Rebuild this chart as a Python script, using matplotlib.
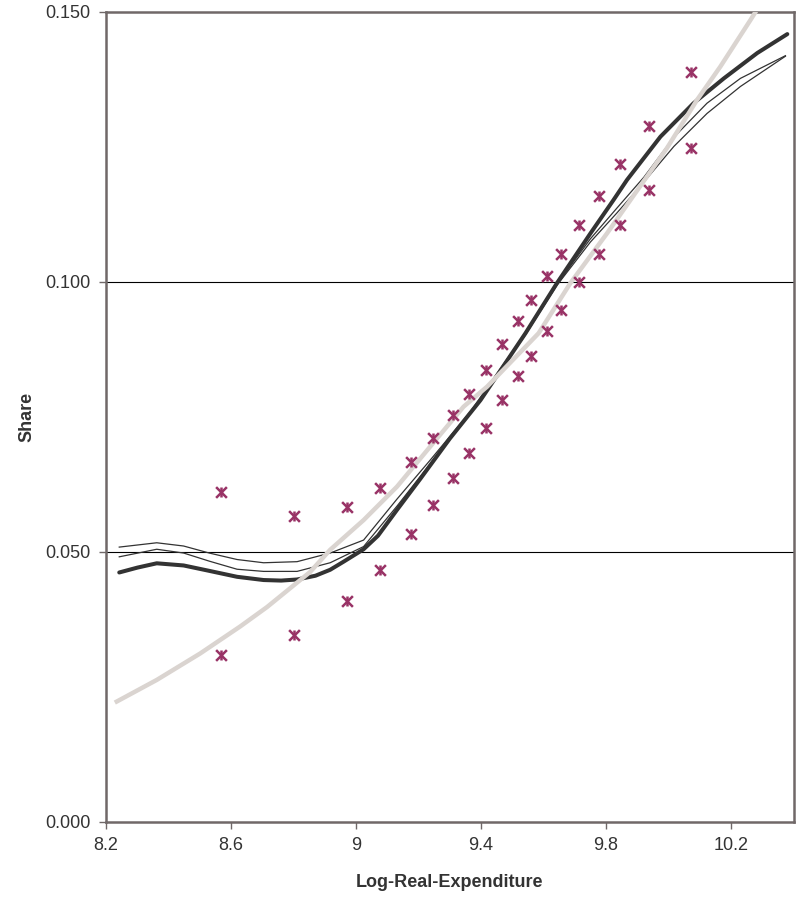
import numpy as np
import matplotlib
matplotlib.use("Agg")
import matplotlib.pyplot as plt
from matplotlib.ticker import FormatStrFormatter

plt.rcParams["font.family"] = ["Liberation Sans", "DejaVu Sans"]

# observed shares (cell means)
obs_x = [8.567, 8.567, 8.801, 8.801, 8.972, 8.972, 9.078, 9.078, 9.177, 9.177,
         9.245, 9.245, 9.309, 9.309, 9.361, 9.361, 9.415, 9.415, 9.467, 9.467,
         9.518, 9.518, 9.560, 9.560, 9.612, 9.612, 9.657, 9.657, 9.714, 9.714,
         9.776, 9.776, 9.846, 9.846, 9.936, 9.936, 10.071, 10.071]
obs_y = [0.0611, 0.0309, 0.0567, 0.0346, 0.0583, 0.0409, 0.0619, 0.0467, 0.0667, 0.0533,
         0.0711, 0.0587, 0.0754, 0.0637, 0.0793, 0.0683, 0.0837, 0.0730, 0.0885, 0.0781,
         0.0928, 0.0826, 0.0967, 0.0863, 0.1011, 0.0909, 0.1052, 0.0948, 0.1106, 0.1000,
         0.1159, 0.1052, 0.1219, 0.1106, 0.1289, 0.1170, 0.1389, 0.1248]

# nonparametric fit (thick)
fit_x = [8.242, 8.300, 8.362, 8.448, 8.530, 8.619, 8.704, 8.760, 8.811, 8.870,
         8.917, 8.960, 9.024, 9.070, 9.131, 9.205, 9.300, 9.398, 9.470, 9.542,
         9.643, 9.750, 9.824, 9.867, 9.974, 10.080, 10.177, 10.284, 10.380]
fit_y = [0.0462, 0.0471, 0.0479, 0.0475, 0.0465, 0.0454, 0.0448, 0.0447, 0.0449, 0.0456,
         0.0467, 0.0482, 0.0505, 0.0530, 0.0578, 0.0635, 0.0710, 0.0781, 0.0843, 0.0905,
         0.0998, 0.1090, 0.1152, 0.1189, 0.1269, 0.1331, 0.1377, 0.1424, 0.1459]

# two alternative fits (thin)
alt_x = [8.242, 8.362, 8.448, 8.530, 8.619, 8.704, 8.811, 8.917, 9.024, 9.131,
         9.237, 9.366, 9.542, 9.643, 9.750, 9.835, 9.921, 10.017, 10.123, 10.230,
         10.374]
alt1_y = [0.0509, 0.0517, 0.0511, 0.0498, 0.0486, 0.0480, 0.0482, 0.0498, 0.0522, 0.0598,
          0.0670, 0.0760, 0.0906, 0.0996, 0.1080, 0.1137, 0.1194, 0.1268, 0.1331, 0.1377,
          0.1419]
alt2_y = [0.0491, 0.0505, 0.0498, 0.0483, 0.0468, 0.0464, 0.0464, 0.0480, 0.0510, 0.0585,
          0.0663, 0.0757, 0.0902, 0.0994, 0.1074, 0.1128, 0.1185, 0.1251, 0.1312, 0.1362,
          0.1418]

# parametric fit (grey)
par_x = [8.234, 8.362, 8.501, 8.629, 8.715, 8.853, 8.917, 9.024, 9.131, 9.237,
         9.344, 9.419, 9.584, 9.686, 9.803, 9.995, 10.091, 10.166, 10.262, 10.300]
par_y = [0.0223, 0.0263, 0.0312, 0.0362, 0.0398, 0.0463, 0.0504, 0.0559, 0.0621, 0.0695,
         0.0769, 0.0806, 0.0905, 0.0998, 0.1090, 0.1248, 0.1337, 0.1399, 0.1485, 0.1520]

fig = plt.figure(figsize=(8.04, 8.99), dpi=100)
ax = fig.add_axes([0.132, 0.0857, 0.855, 0.901])

ax.axhline(0.05, color="black", lw=0.8, zorder=1)
ax.axhline(0.10, color="black", lw=0.8, zorder=1)

dark = "#333333"
ax.plot(fit_x, fit_y, color=dark, lw=2.9, solid_capstyle="round",
        solid_joinstyle="round", zorder=3)
ax.plot(alt_x, alt1_y, color=dark, lw=0.9, zorder=3)
ax.plot(alt_x, alt2_y, color=dark, lw=0.9, zorder=3)
ax.plot(par_x, par_y, color="#dad4d0", lw=3.2, zorder=4)

mcol = "#993366"
ax.scatter(obs_x, obs_y, marker="x", s=60, color=mcol, linewidths=1.8, zorder=5)
ax.scatter(obs_x, obs_y, marker="|", s=60, color=mcol, linewidths=1.8, zorder=5)

ax.set_xlim(8.2, 10.4)
ax.set_ylim(0, 0.15)
ax.set_xticks([8.2, 8.6, 9.0, 9.4, 9.8, 10.2])
ax.set_xticklabels(["8.2", "8.6", "9", "9.4", "9.8", "10.2"])
ax.set_yticks([0, 0.05, 0.10, 0.15])
ax.yaxis.set_major_formatter(FormatStrFormatter("%.3f"))

for s in ax.spines.values():
    s.set_color("#706868")
    s.set_linewidth(1.8)
ax.tick_params(direction="out", length=5, width=1, color="#706868",
               labelsize=13, labelcolor="#333333", pad=6)

ax.set_xlabel("Log-Real-Expenditure", fontsize=13, fontweight="bold",
              color="#333333", labelpad=14)
ax.set_ylabel("Share", fontsize=13, fontweight="bold", color="#333333",
              labelpad=7)

fig.savefig("out.png", dpi=100)
